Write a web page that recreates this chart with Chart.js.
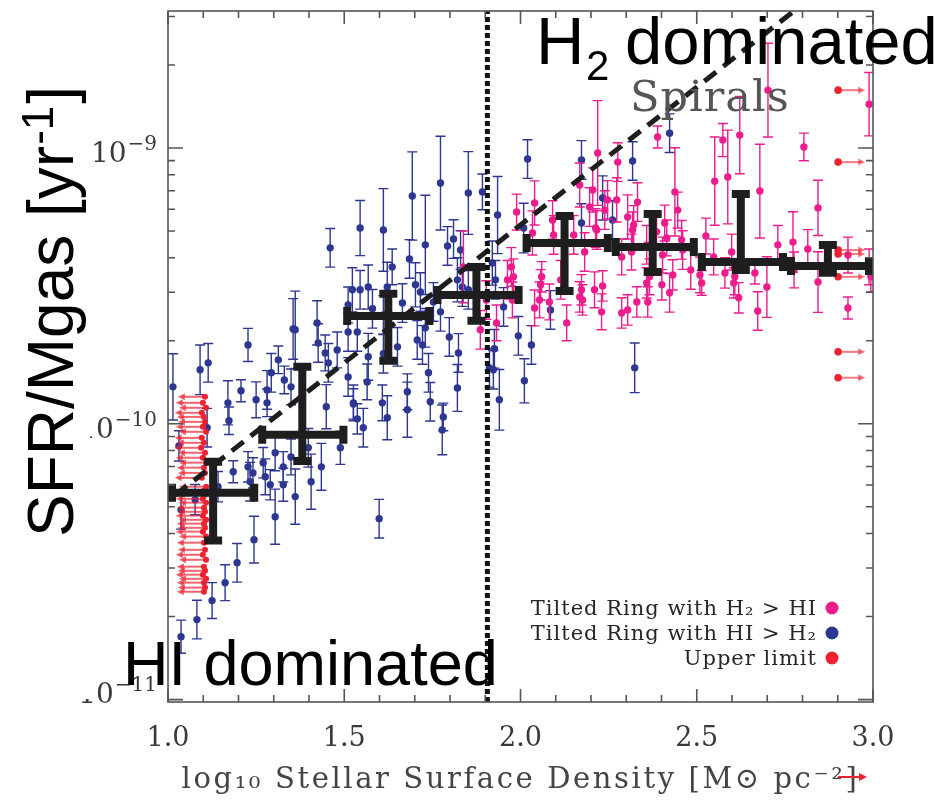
<!DOCTYPE html>
<html>
<head>
<meta charset="utf-8">
<script src="https://cdn.jsdelivr.net/npm/chart.js@4.4.0/dist/chart.umd.min.js"></script>
<style>
  body { margin: 0; background: #fff; }
  canvas { display: block; }
</style>
</head>
<body>
<canvas id="chart0" width="934" height="800"></canvas>
<script>
/**** DATA ****/
// rings: [log10 stellar surface density, log10 SFR/Mgas, error (dex)]
const hiRings = [
  [1.227,-9.714,0.06],[1.091,-9.804,0.09],[1.114,-9.779,0.07],[1.014,-9.866,0.12],[1.170,-9.924,0.08],
  [1.207,-9.880,0.04],[1.173,-9.989,0.05],[1.250,-9.913,0.065],[1.281,-9.877,0.07],[1.281,-9.924,0.05],
  [1.313,-9.768,0.05],[1.293,-9.815,0.07],[1.330,-9.841,0.05],[1.349,-9.866,0.065],[1.361,-9.659,0.14],
  [1.426,-9.707,0.07],[1.446,-9.743,0.065],[1.455,-9.779,0.07],[1.511,-9.830,0.07],[1.526,-9.924,0.065],
  [1.449,-9.938,0.08],[1.031,-10.080,0.055],[1.111,-10.014,0.07],[1.185,-10.174,0.04],[1.227,-10.156,0.055],
  [1.233,-10.210,0.07],[1.241,-10.178,0.055],[1.270,-10.141,0.055],[1.276,-10.192,0.065],[1.290,-10.221,0.055],
  [1.327,-10.221,0.06],[1.304,-10.105,0.065],[1.327,-10.156,0.055],[1.349,-10.120,0.065],[1.398,-10.087,0.07],
  [1.435,-10.156,0.085],[1.406,-10.210,0.1],[1.489,-10.087,0.06],[1.361,-10.264,0.1],[1.304,-10.337,0.1],
  [1.142,-10.228,0.055],[1.037,-10.312,0.07],[1.077,-10.275,0.055],[1.244,-10.420,0.085],[1.196,-10.504,0.07],
  [1.162,-10.576,0.065],[1.125,-10.641,0.065],[1.082,-10.710,0.07],[1.037,-10.772,0.06],[1.599,-10.344,0.07],
  [1.554,-10.014,0.07],[1.622,-9.978,0.08],[1.679,-9.949,0.1],[1.778,-10.022,0.09],[1.744,-9.920,0.07],
  [1.526,-9.928,0.055],[1.537,-9.667,0.07],[1.568,-9.757,0.085],[1.565,-9.848,0.065],[1.537,-9.982,0.055],
  [1.611,-9.746,0.07],[1.608,-9.924,0.065],[1.651,-9.721,0.07],[1.679,-9.884,0.065],[1.722,-9.714,0.07],
  [1.739,-9.815,0.07],[1.781,-9.975,0.05],[1.798,-9.685,0.07],[1.824,-9.743,0.07],[1.821,-9.870,0.085],
  [1.926,-9.728,0.07],[1.940,-9.913,0.11],[1.994,-9.681,0.07],[2.011,-9.844,0.08],[1.923,-9.804,0.07],
  [1.545,-9.290,0.1],[1.611,-9.297,0.15],[1.636,-9.431,0.065],[1.693,-9.174,0.16],[1.685,-9.402,0.07],
  [1.730,-9.351,0.18],[1.773,-9.127,0.17],[1.793,-9.355,0.07],[1.810,-9.330,0.07],[1.830,-9.370,0.07],
  [1.852,-9.163,0.15],[1.892,-9.159,0.065],[1.935,-9.243,0.14],[2.020,-9.040,0.07],[1.523,-9.514,0.08],
  [1.545,-9.514,0.07],[1.568,-9.504,0.08],[1.622,-9.504,0.09],[1.665,-9.562,0.07],[1.702,-9.496,0.08],
  [1.716,-9.522,0.07],[1.753,-9.558,0.07],[1.773,-9.594,0.07],[1.821,-9.478,0.08],[1.835,-9.504,0.07],
  [1.852,-9.514,0.07],[1.920,-9.417,0.08],[1.929,-9.478,0.07],[1.952,-9.576,0.07],[2.009,-9.290,0.09],
  [1.580,-9.583,0.07],[1.611,-9.605,0.07],[1.460,-9.362,0.07],[1.511,-9.569,0.065],[1.480,-9.732,0.065],
  [1.423,-9.634,0.08],[1.355,-9.656,0.11],[1.707,-9.696,0.07],[1.730,-9.652,0.07],[1.511,-9.667,0.07],
  [2.173,-9.043,0.07],[2.318,-9.047,0.07],[2.423,-8.946,0.07],[2.173,-9.272,0.07],[2.233,-9.181,0.08],
  [2.261,-9.261,0.07],[2.324,-9.797,0.09],[2.031,-9.714,0.07],[1.912,-9.797,0.07],[2.085,-9.587,0.07]
];

const h2Rings = [
  [2.702,-8.790,0.17],[2.989,-8.841,0.115],[2.804,-8.996,0.05],[2.622,-8.953,0.14],[2.574,-8.971,0.06],
  [2.551,-9.120,0.16],[2.588,-9.105,0.17],[2.679,-9.156,0.17],[2.389,-8.960,0.04],[2.219,-9.018,0.19],
  [2.276,-9.051,0.07],[2.844,-9.217,0.1],[2.773,-9.341,0.11],[2.815,-9.366,0.07],[2.730,-9.351,0.07],
  [2.929,-9.388,0.065],[2.844,-9.486,0.11],[2.929,-9.580,0.04],[2.673,-9.591,0.07],[2.699,-9.504,0.11],
  [2.619,-9.543,0.055],[2.599,-9.377,0.065],[2.665,-9.453,0.04],[2.580,-9.453,0.055],[2.608,-9.467,0.065],
  [2.509,-9.460,0.065],[2.514,-9.489,0.045],[2.438,-9.159,0.16],[2.446,-9.225,0.065],[2.457,-9.333,0.07],
  [2.415,-9.326,0.065],[2.409,-9.272,0.065],[2.432,-9.460,0.055],[2.401,-9.496,0.055],[2.423,-9.525,0.07],
  [2.386,-9.304,0.065],[2.358,-9.351,0.07],[2.332,-9.196,0.07],[2.304,-9.250,0.08],[2.318,-9.297,0.065],
  [2.273,-9.188,0.08],[2.247,-9.188,0.07],[2.239,-9.225,0.07],[2.205,-9.152,0.08],[2.196,-9.214,0.07],
  [2.216,-9.297,0.07],[2.168,-9.134,0.08],[2.182,-9.377,0.07],[2.173,-9.514,0.055],[2.168,-9.540,0.055],
  [2.233,-9.500,0.055],[2.230,-9.594,0.065],[2.210,-9.514,0.065],[2.091,-9.261,0.07],[2.040,-9.199,0.08],
  [1.989,-9.232,0.065],[2.034,-9.308,0.08],[2.060,-9.467,0.055],[2.057,-9.496,0.055],[2.040,-9.580,0.065],
  [2.082,-9.558,0.065],[2.131,-9.634,0.065],[1.974,-9.431,0.07],[1.963,-9.478,0.07],[1.932,-9.634,0.065],
  [2.287,-9.395,0.065],[2.315,-9.377,0.065],[2.287,-9.598,0.055],[2.304,-9.587,0.055],[2.330,-9.558,0.055],
  [2.361,-9.558,0.055],[2.358,-9.489,0.055],[2.366,-9.467,0.065],[1.980,-9.467,0.065],[1.977,-9.551,0.065],
  [2.054,-9.551,0.065],[2.114,-9.478,0.07],[2.176,-9.551,0.055],[2.403,-9.388,0.065],[2.460,-9.370,0.07],
  [2.094,-9.315,0.07],[2.151,-9.315,0.07],[2.213,-9.290,0.07],[2.321,-9.279,0.07],[2.483,-9.442,0.07],
  [2.526,-9.319,0.065],[2.548,-9.395,0.065],[2.605,-9.489,0.055],[2.776,-9.442,0.065],[2.989,-9.431,0.065],
  [2.994,-9.467,0.055],[1.838,-9.431,0.13],[1.903,-9.551,0.07],[1.886,-9.659,0.07]
];

// upper limits: [log10 stellar surface density, log10 SFR/Mgas]
const upperLimitsLeft = [
  [1.105,-9.902],[1.099,-9.924],[1.108,-9.942],[1.096,-9.960],[1.102,-9.975],[1.105,-9.993],[1.099,-10.011],
  [1.108,-10.029],[1.096,-10.051],[1.102,-10.069],[1.094,-10.087],[1.105,-10.105],[1.099,-10.123],[1.108,-10.141],
  [1.102,-10.159],[1.105,-10.178],[1.096,-10.196],[1.108,-10.228],[1.102,-10.243],[1.105,-10.257],[1.099,-10.272],
  [1.108,-10.286],[1.102,-10.304],[1.105,-10.319],[1.099,-10.333],[1.108,-10.348],[1.102,-10.362],[1.105,-10.377],
  [1.099,-10.391],[1.108,-10.409],[1.102,-10.431],[1.105,-10.457],[1.099,-10.475],[1.108,-10.493],[1.102,-10.518],
  [1.105,-10.533],[1.099,-10.547],[1.108,-10.562],[1.102,-10.576],[1.105,-10.594],[1.102,-10.609]
];
const upperLimitsRight = [
  [2.901,-8.790],[2.901,-9.051],[2.901,-9.370],[2.901,-9.384],[2.901,-9.467],[2.901,-9.739],[2.901,-9.833]
];

// binned medians
const binX     = [1.128, 1.381, 1.625, 1.875, 2.125, 2.375, 2.625, 2.872];
const binLogY  = [-10.25, -10.04, -9.609, -9.533, -9.344, -9.359, -9.413, -9.428];
const binXLo   = [1.0, 1.256, 1.497, 1.753, 2.006, 2.259, 2.503, 2.756];
const binXHi   = [1.256, 1.509, 1.753, 2.006, 2.259, 2.503, 2.756, 3.0];
const binLogLo = [-10.438, -10.149, -9.786, -9.641, -9.533, -9.464, -9.457, -9.467];
const binLogHi = [-10.123, -9.779, -9.514, -9.417, -9.232, -9.225, -9.152, -9.337];

const fitLine = [[1.02, -10.259], [2.80, -8.479]];
const transitionX = 1.906;

const xRange = [1.0, 3.0];
const yRange = [0.98e-11, 3.14e-9];
const yTickValues = [1e-11, 1e-10, 1e-9];
const yTickExponents = ['\u221211', '\u221210', '\u22129'];
const xTitle = 'log\u2081\u2080 Stellar Surface Density [M\u2299 pc\u207B\u00B2]';
const legendLabels = ['Tilted Ring with H\u2082 > HI', 'Tilted Ring with HI > H\u2082', 'Upper limit'];

/**** STYLE ****/
const blue = '#2d3791';
const pink = '#ec1c8c';
const red = '#ee2230';
const ink = '#1e1e1e';
const frameColor = '#555555';
const pow10 = v => Math.pow(10, v);

/**** PLUGINS ****/
const errorBars = {
  id: 'errorBars',
  beforeDatasetDraw(chart, args) {
    const ds = chart.data.datasets[args.index];
    const {ctx, chartArea: a} = chart;
    const sx = chart.scales.x, sy = chart.scales.y;
    ctx.save();
    ctx.beginPath();
    ctx.rect(a.left, a.top, a.right - a.left, a.bottom - a.top);
    ctx.clip();

    if (ds.errDex) {
      ctx.strokeStyle = ds.errColor;
      ctx.lineWidth = 1.4;
      ds.data.forEach(function(p, i) {
        var px = sx.getPixelForValue(p.x);
        var f = pow10(ds.errDex[i]);
        var y0 = sy.getPixelForValue(p.y / f);
        var y1 = sy.getPixelForValue(p.y * f);
        ctx.beginPath();
        ctx.moveTo(px, y0); ctx.lineTo(px, y1);
        ctx.moveTo(px - 5, y0); ctx.lineTo(px + 5, y0);
        ctx.moveTo(px - 5, y1); ctx.lineTo(px + 5, y1);
        ctx.stroke();
      });
    }

    if (ds.arrowDir) {
      ctx.strokeStyle = ds.arrowColor;
      ctx.fillStyle = ds.arrowColor;
      ctx.lineWidth = 2;
      ds.data.forEach(function(p) {
        var x0 = sx.getPixelForValue(p.x);
        var x1 = sx.getPixelForValue(p.x + ds.arrowDir * 0.077);
        var py = sy.getPixelForValue(p.y);
        ctx.beginPath();
        ctx.moveTo(x0, py); ctx.lineTo(x1 - ds.arrowDir * 4, py);
        ctx.stroke();
        ctx.beginPath();
        ctx.moveTo(x1, py);
        ctx.lineTo(x1 - ds.arrowDir * 7, py - 3.5);
        ctx.lineTo(x1 - ds.arrowDir * 7, py + 3.5);
        ctx.closePath();
        ctx.fill();
      });
    }

    if (ds.bins) {
      ctx.strokeStyle = ink;
      ctx.lineWidth = 8;
      ctx.lineCap = 'butt';
      binX.forEach(function(bx, i) {
        var cx = sx.getPixelForValue(bx);
        var cy = sy.getPixelForValue(pow10(binLogY[i]));
        var xl = sx.getPixelForValue(binXLo[i]);
        var xh = sx.getPixelForValue(binXHi[i]);
        var yl = sy.getPixelForValue(pow10(binLogLo[i]));
        var yh = sy.getPixelForValue(pow10(binLogHi[i]));
        ctx.beginPath();
        ctx.moveTo(xl, cy); ctx.lineTo(xh, cy);
        ctx.moveTo(cx, yl); ctx.lineTo(cx, yh);
        ctx.moveTo(xl + 4, cy - 9); ctx.lineTo(xl + 4, cy + 9);
        ctx.moveTo(xh - 4, cy - 9); ctx.lineTo(xh - 4, cy + 9);
        ctx.moveTo(cx - 9, yl - 4); ctx.lineTo(cx + 9, yl - 4);
        ctx.moveTo(cx - 9, yh + 4); ctx.lineTo(cx + 9, yh + 4);
        ctx.stroke();
      });
    }
    ctx.restore();
  }
};

const frame = {
  id: 'frame',
  afterDraw(chart) {
    const {ctx, chartArea: a} = chart;
    const sx = chart.scales.x, sy = chart.scales.y;
    ctx.save();

    // box and inward ticks
    ctx.strokeStyle = frameColor;
    ctx.lineWidth = 1.6;
    ctx.strokeRect(a.left, a.top, a.right - a.left, a.bottom - a.top);
    ctx.beginPath();
    for (var i = 10; i <= 30; i++) {
      var px = sx.getPixelForValue(i / 10);
      var len = (i % 5 === 0) ? 13 : 7;
      ctx.moveTo(px, a.bottom); ctx.lineTo(px, a.bottom - len);
      ctx.moveTo(px, a.top); ctx.lineTo(px, a.top + len);
    }
    for (var e = -11; e <= -9; e++) {
      for (var m = 1; m <= 9; m++) {
        var v = m * Math.pow(10, e);
        if (v < yRange[0] || v > yRange[1]) continue;
        var py = sy.getPixelForValue(v);
        var l = (m === 1) ? 15 : 7;
        ctx.moveTo(a.left, py); ctx.lineTo(a.left + l, py);
        ctx.moveTo(a.right, py); ctx.lineTo(a.right - l, py);
      }
    }
    ctx.stroke();

    // y tick labels: 10 with a raised exponent, kept inside the axis
    ctx.fillStyle = '#3a3a3a';
    ctx.textAlign = 'right';
    ctx.textBaseline = 'alphabetic';
    yTickValues.forEach(function(v, k) {
      var base = Math.min(sy.getPixelForValue(v) + 14, a.bottom + 1);
      ctx.font = '20px "DejaVu Serif", serif';
      ctx.fillText(yTickExponents[k], 157, base - 12);
      var ew = ctx.measureText(yTickExponents[k]).width;
      ctx.font = '28px "DejaVu Serif", serif';
      ctx.fillText('10', 157 - ew - 1, base);
    });

    // x axis title
    ctx.textAlign = 'center';
    ctx.fillStyle = '#444444';
    ctx.font = '29px "DejaVu Serif", serif';
    ctx.letterSpacing = '2.6px';
    ctx.fillText(xTitle, (a.left + a.right) / 2, 788);
    ctx.letterSpacing = '0px';

    // y axis title on a white box
    ctx.fillStyle = '#ffffff';
    ctx.fillRect(0, 0, 90, 699);
    ctx.fillStyle = '#000000';
    ctx.textAlign = 'left';
    ctx.save();
    ctx.translate(73, 537);
    ctx.rotate(-Math.PI / 2);
    ctx.font = '64px "Liberation Sans", Arial, sans-serif';
    var t1 = 'SFR/Mgas [yr';
    ctx.fillText(t1, 0, 0);
    var w1 = ctx.measureText(t1).width;
    ctx.font = '44px "Liberation Sans", Arial, sans-serif';
    ctx.fillText('-1', w1 + 1, -20);
    var w2 = ctx.measureText('-1').width;
    ctx.font = '64px "Liberation Sans", Arial, sans-serif';
    ctx.fillText(']', w1 + w2 + 3, 0);
    ctx.restore();

    // annotations
    ctx.fillStyle = '#000000';
    ctx.font = '63px "Liberation Sans", Arial, sans-serif';
    ctx.fillText('HI dominated', 123, 685);
    ctx.font = '67px "Liberation Sans", Arial, sans-serif';
    ctx.fillText('H', 536, 64);
    ctx.fillText('dominated', 625, 64);
    ctx.font = '42px "Liberation Sans", Arial, sans-serif';
    ctx.fillText('2', 586, 80);

    ctx.fillStyle = '#555555';
    ctx.font = '43px "DejaVu Serif", serif';
    ctx.letterSpacing = '1px';
    ctx.fillText('Spirals', 630, 111);

    // legend
    var legendColors = [pink, blue, red];
    ctx.font = '21px "DejaVu Serif", serif';
    ctx.letterSpacing = '1px';
    ctx.textAlign = 'right';
    legendLabels.forEach(function(lbl, k) {
      var by = 615 + k * 25;
      ctx.fillStyle = '#262626';
      ctx.fillText(lbl, 817, by);
      ctx.fillStyle = legendColors[k];
      ctx.beginPath();
      ctx.arc(832, by - 7, 6.5, 0, Math.PI * 2);
      ctx.fill();
    });
    ctx.letterSpacing = '0px';

    // stray arrow at the right end of the x title
    ctx.strokeStyle = red;
    ctx.fillStyle = red;
    ctx.lineWidth = 2;
    ctx.beginPath();
    ctx.moveTo(838, 777); ctx.lineTo(860, 777);
    ctx.stroke();
    ctx.beginPath();
    ctx.moveTo(867, 777); ctx.lineTo(859, 773); ctx.lineTo(859, 781);
    ctx.closePath();
    ctx.fill();

    ctx.restore();
  }
};

/**** CHART ****/
var datasets = [
  {
    label: 'Tilted Ring with HI > H2',
    data: hiRings.map(p => ({x: p[0], y: pow10(p[1])})),
    errDex: hiRings.map(p => p[2]),
    errColor: blue,
    pointRadius: 3.7,
    pointBackgroundColor: blue,
    pointBorderWidth: 0,
    order: 7
  },
  {
    label: 'Tilted Ring with H2 > HI',
    data: h2Rings.map(p => ({x: p[0], y: pow10(p[1])})),
    errDex: h2Rings.map(p => p[2]),
    errColor: pink,
    pointRadius: 3.7,
    pointBackgroundColor: pink,
    pointBorderWidth: 0,
    order: 6
  },
  {
    label: 'Upper limit',
    data: upperLimitsLeft.map(p => ({x: p[0], y: pow10(p[1])})),
    arrowDir: -1,
    arrowColor: 'rgba(238,34,48,0.7)',
    pointRadius: 3,
    pointBackgroundColor: red,
    pointBorderWidth: 0,
    order: 5
  },
  {
    label: 'Upper limit (right)',
    data: upperLimitsRight.map(p => ({x: p[0], y: pow10(p[1])})),
    arrowDir: 1,
    arrowColor: 'rgba(238,34,48,0.6)',
    pointRadius: 3.8,
    pointBackgroundColor: red,
    pointBorderWidth: 0,
    order: 5
  },
  {
    label: 'fit',
    data: fitLine.map(p => ({x: p[0], y: pow10(p[1])})),
    showLine: true,
    borderColor: ink,
    borderWidth: 5,
    borderDash: [15, 9],
    pointRadius: 0,
    order: 3
  },
  {
    label: 'transition',
    data: [{x: transitionX, y: yRange[0]}, {x: transitionX, y: yRange[1]}],
    showLine: true,
    borderColor: '#111111',
    borderWidth: 5,
    borderDash: [5, 3],
    pointRadius: 0,
    order: 2
  },
  {
    label: 'bins',
    data: binX.map((x, i) => ({x: x, y: pow10(binLogY[i])})),
    bins: true,
    pointRadius: 0,
    order: 1
  }
];

var ctx = document.getElementById('chart0');
var chart = new Chart(ctx, {
  type: 'scatter',
  data: { datasets: datasets },
  options: {
    responsive: false,
    animation: false,
    layout: { padding: { top: 11, right: 61, left: 0, bottom: 0 } },
    plugins: {
      legend: { display: false },
      tooltip: { enabled: false }
    },
    scales: {
      x: {
        type: 'linear',
        min: xRange[0],
        max: xRange[1],
        afterFit: function(scale) {
          scale.height = 98;
          scale.paddingLeft = 0;
          scale.paddingRight = 0;
        },
        grid: { display: false, drawTicks: false },
        border: { display: false },
        ticks: {
          stepSize: 0.5,
          padding: 21,
          color: '#3a3a3a',
          font: { family: 'DejaVu Serif', size: 27 },
          callback: function(value) { return value.toFixed(1); }
        }
      },
      y: {
        type: 'logarithmic',
        min: yRange[0],
        max: yRange[1],
        afterFit: function(scale) {
          scale.width = 168;
          scale.paddingTop = 0;
          scale.paddingBottom = 0;
        },
        afterBuildTicks: function(scale) {
          scale.ticks = yTickValues.map(v => ({value: v}));
        },
        grid: { display: false, drawTicks: false },
        border: { display: false },
        ticks: { display: false }
      }
    }
  },
  plugins: [errorBars, frame]
});
</script>
</body>
</html>
